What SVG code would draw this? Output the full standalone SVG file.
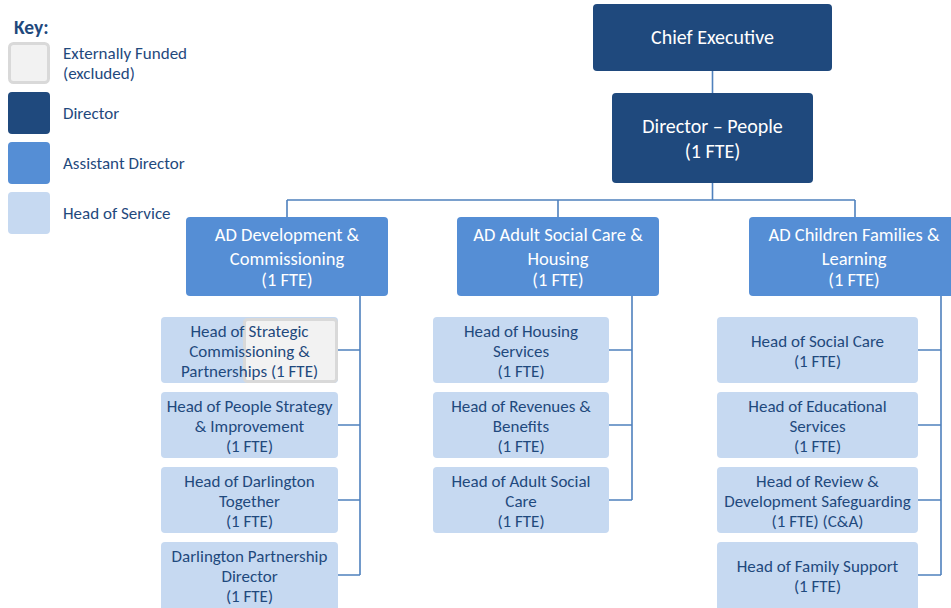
<svg xmlns="http://www.w3.org/2000/svg" width="951" height="608" viewBox="0 0 951 608">
  <style>
    text { font-family: Carlito, Lato, "Liberation Sans", sans-serif; text-anchor: middle; }
    .dir { fill: #1f497d; }
    .ad { fill: #558ed5; }
    .hos { fill: #c6d9f1; }
    .ext { fill: #f2f2f2; stroke: #d9d9d9; stroke-width: 3; }
    .tw { fill: #ffffff; }
    .tdir { font-size: 20px; }
    .tad { font-size: 18.5px; }
    .th { fill: #1f497d; font-size: 17px; }
    .key { fill: #1f497d; font-size: 17px; text-anchor: start; }
    .conn { fill: none; stroke: #4f81bd; stroke-width: 1.6; }
  </style>

  <!-- key -->
  <g id="key">
    <text x="14" y="34" class="key" style="font-weight:bold;font-size:19.5px">Key:</text>
    <rect x="9.5" y="43.5" width="39" height="39" rx="4" class="ext"/>
    <rect x="8" y="92" width="42" height="42" rx="4" class="dir"/>
    <rect x="8" y="142" width="42" height="42" rx="4" class="ad"/>
    <rect x="8" y="192" width="42" height="42" rx="4" class="hos"/>
    <text x="63" y="59" class="key">Externally Funded</text>
    <text x="63" y="79" class="key">(excluded)</text>
    <text x="63" y="119" class="key">Director</text>
    <text x="63" y="169" class="key">Assistant Director</text>
    <text x="63" y="219" class="key">Head of Service</text>
  </g>

  <!-- connectors -->
  <g id="connectors">
    <path class="conn" d="M712.5 71 V93"/>
    <path class="conn" d="M712.5 183 V200 M287 200 H855 M287 200 V217 M558 200 V217 M855 200 V217"/>
    <path class="conn" d="M360 296 V575 M338 350 H360 M338 425 H360 M338 500 H360 M338 575 H360"/>
    <path class="conn" d="M632 296 V500 M609 350 H632 M609 425 H632 M609 500 H632"/>
    <path class="conn" d="M941 296 V575 M918 350 H941 M918 425 H941 M918 500 H941 M918 575 H941"/>
  </g>

  <!-- top levels -->
  <g id="chief-executive">
    <rect x="593" y="4" width="239" height="67" rx="4" class="dir"/>
    <text x="712.5" y="44" class="tw tdir">Chief Executive</text>
  </g>
  <g id="director-people">
    <rect x="612" y="93" width="201" height="90" rx="4" class="dir"/>
    <text x="712.5" y="133" class="tw tdir">Director – People</text>
    <text x="712.5" y="158" class="tw tdir">(1 FTE)</text>
  </g>

  <!-- assistant directors -->
  <g id="ad-development">
    <rect x="186" y="217" width="202" height="79" rx="4" class="ad"/>
    <text x="287" y="241" class="tw tad">AD Development &amp;</text>
    <text x="287" y="265" class="tw tad">Commissioning</text>
    <text x="287" y="286" class="tw tad">(1 FTE)</text>
  </g>
  <g id="ad-adult">
    <rect x="457" y="217" width="202" height="79" rx="4" class="ad"/>
    <text x="558" y="241" class="tw tad">AD Adult Social Care &amp;</text>
    <text x="558" y="265" class="tw tad">Housing</text>
    <text x="558" y="286" class="tw tad">(1 FTE)</text>
  </g>
  <g id="ad-children">
    <rect x="749" y="217" width="210" height="79" rx="4" class="ad"/>
    <text x="854" y="241" class="tw tad">AD Children Families &amp;</text>
    <text x="854" y="265" class="tw tad">Learning</text>
    <text x="854" y="286" class="tw tad">(1 FTE)</text>
  </g>

  <!-- heads of service: development & commissioning -->
  <g id="hos-strategic-commissioning">
    <rect x="161" y="317" width="177" height="66" rx="4" class="hos"/>
    <rect x="244.5" y="319.5" width="92" height="62" rx="3" class="ext"/>
    <text x="249.5" y="337" class="th">Head of Strategic</text>
    <text x="249.5" y="357" class="th">Commissioning &amp;</text>
    <text x="249.5" y="377" class="th">Partnerships (1 FTE)</text>
  </g>
  <g id="hos-people-strategy">
    <rect x="161" y="392" width="177" height="66" rx="4" class="hos"/>
    <text x="249.5" y="412" class="th">Head of People Strategy</text>
    <text x="249.5" y="432" class="th">&amp; Improvement</text>
    <text x="249.5" y="452" class="th">(1 FTE)</text>
  </g>
  <g id="hos-darlington-together">
    <rect x="161" y="467" width="177" height="66" rx="4" class="hos"/>
    <text x="249.5" y="487" class="th">Head of Darlington</text>
    <text x="249.5" y="507" class="th">Together</text>
    <text x="249.5" y="527" class="th">(1 FTE)</text>
  </g>
  <g id="hos-partnership-director">
    <rect x="161" y="542" width="177" height="70" rx="4" class="hos"/>
    <text x="249.5" y="562" class="th">Darlington Partnership</text>
    <text x="249.5" y="582" class="th">Director</text>
    <text x="249.5" y="602" class="th">(1 FTE)</text>
  </g>

  <!-- heads of service: adult social care & housing -->
  <g id="hos-housing">
    <rect x="433" y="317" width="176" height="66" rx="4" class="hos"/>
    <text x="521" y="337" class="th">Head of Housing</text>
    <text x="521" y="357" class="th">Services</text>
    <text x="521" y="377" class="th">(1 FTE)</text>
  </g>
  <g id="hos-revenues">
    <rect x="433" y="392" width="176" height="66" rx="4" class="hos"/>
    <text x="521" y="412" class="th">Head of Revenues &amp;</text>
    <text x="521" y="432" class="th">Benefits</text>
    <text x="521" y="452" class="th">(1 FTE)</text>
  </g>
  <g id="hos-adult-social-care">
    <rect x="433" y="467" width="176" height="66" rx="4" class="hos"/>
    <text x="521" y="487" class="th">Head of Adult Social</text>
    <text x="521" y="507" class="th">Care</text>
    <text x="521" y="527" class="th">(1 FTE)</text>
  </g>

  <!-- heads of service: children families & learning -->
  <g id="hos-social-care">
    <rect x="717" y="317" width="201" height="66" rx="4" class="hos"/>
    <text x="817.5" y="347" class="th">Head of Social Care</text>
    <text x="817.5" y="367" class="th">(1 FTE)</text>
  </g>
  <g id="hos-educational">
    <rect x="717" y="392" width="201" height="66" rx="4" class="hos"/>
    <text x="817.5" y="412" class="th">Head of Educational</text>
    <text x="817.5" y="432" class="th">Services</text>
    <text x="817.5" y="452" class="th">(1 FTE)</text>
  </g>
  <g id="hos-review-safeguarding">
    <rect x="717" y="467" width="201" height="66" rx="4" class="hos"/>
    <text x="817.5" y="487" class="th">Head of Review &amp;</text>
    <text x="817.5" y="507" class="th">Development Safeguarding</text>
    <text x="817.5" y="527" class="th">(1 FTE) (C&amp;A)</text>
  </g>
  <g id="hos-family-support">
    <rect x="717" y="542" width="201" height="70" rx="4" class="hos"/>
    <text x="817.5" y="572" class="th">Head of Family Support</text>
    <text x="817.5" y="592" class="th">(1 FTE)</text>
  </g>
</svg>
